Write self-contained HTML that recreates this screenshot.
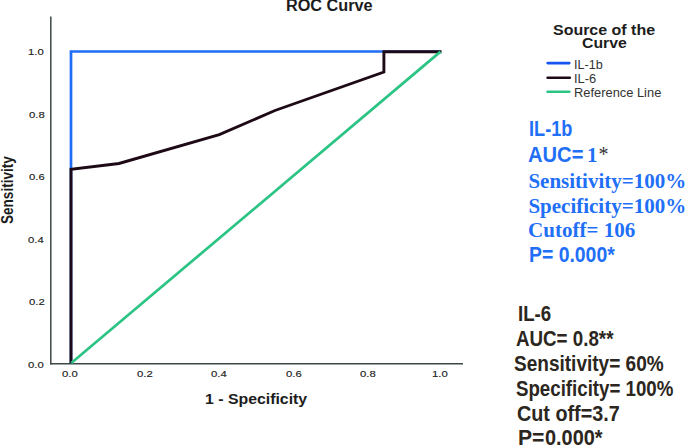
<!DOCTYPE html>
<html><head><meta charset="utf-8">
<style>
html,body{margin:0;padding:0;background:#fff;}
body{width:685px;height:447px;position:relative;overflow:hidden;font-family:'Liberation Sans',sans-serif;}
.t{position:absolute;white-space:nowrap;line-height:1;}
svg{position:absolute;left:0;top:0;}
</style></head>
<body>
<svg width="685" height="447" viewBox="0 0 685 447">
  <line x1="50.8" y1="16.5" x2="50.8" y2="364.6" stroke="#3d4848" stroke-width="1.5"/>
  <line x1="50" y1="363.8" x2="463" y2="363.8" stroke="#3d4848" stroke-width="1.5"/>
  <polyline points="71,363 71,51.5 440.5,51.5" fill="none" stroke="#1f6cf5" stroke-width="2.7"/>
  <polyline points="71,363 71,169.2 119,163.5 219.3,134.6 275,110.5 383.9,72 383.9,51.7 441.5,51.7" fill="none" stroke="#1e0a16" stroke-width="2.9" stroke-linejoin="miter"/>
  <line x1="71.3" y1="363" x2="440.5" y2="51.6" stroke="#2cc484" stroke-width="2.7"/>
  <line x1="547.6" y1="63.1" x2="569.3" y2="63.1" stroke="#1655f2" stroke-width="2.6" stroke-linecap="round"/>
  <line x1="547.6" y1="77.7" x2="569.8" y2="77.7" stroke="#1e0a16" stroke-width="2.6" stroke-linecap="round"/>
  <line x1="547.6" y1="91.8" x2="569.3" y2="91.8" stroke="#2cc484" stroke-width="2.6" stroke-linecap="round"/>
</svg>

<div class="t" style="left:285.99px;top:-2.20px;font-family:'Liberation Sans',sans-serif;font-size:16px;font-weight:bold;letter-spacing:0.000px;color:#1c1c1c;transform:scaleX(1.0143);transform-origin:0 0;">ROC Curve</div>
<div class="t" style="left:28.08px;top:48.26px;font-family:'Liberation Sans',sans-serif;font-size:10px;font-weight:normal;letter-spacing:0.000px;color:#222;transform:scale(1.1300,0.9300);transform-origin:0 0;-webkit-text-stroke:0.15px #222;">1.0</div>
<div class="t" style="left:29.21px;top:110.76px;font-family:'Liberation Sans',sans-serif;font-size:10px;font-weight:normal;letter-spacing:0.000px;color:#222;transform:scale(1.1300,0.9300);transform-origin:0 0;-webkit-text-stroke:0.15px #222;">0.8</div>
<div class="t" style="left:29.21px;top:173.26px;font-family:'Liberation Sans',sans-serif;font-size:10px;font-weight:normal;letter-spacing:0.000px;color:#222;transform:scale(1.1300,0.9300);transform-origin:0 0;-webkit-text-stroke:0.15px #222;">0.6</div>
<div class="t" style="left:28.08px;top:235.76px;font-family:'Liberation Sans',sans-serif;font-size:10px;font-weight:normal;letter-spacing:0.000px;color:#222;transform:scale(1.1300,0.9300);transform-origin:0 0;-webkit-text-stroke:0.15px #222;">0.4</div>
<div class="t" style="left:29.21px;top:298.26px;font-family:'Liberation Sans',sans-serif;font-size:10px;font-weight:normal;letter-spacing:0.000px;color:#222;transform:scale(1.1300,0.9300);transform-origin:0 0;-webkit-text-stroke:0.15px #222;">0.2</div>
<div class="t" style="left:28.08px;top:360.76px;font-family:'Liberation Sans',sans-serif;font-size:10px;font-weight:normal;letter-spacing:0.000px;color:#222;transform:scale(1.1300,0.9300);transform-origin:0 0;-webkit-text-stroke:0.15px #222;">0.0</div>
<div class="t" style="left:62.49px;top:370.36px;font-family:'Liberation Sans',sans-serif;font-size:10px;font-weight:normal;letter-spacing:0.000px;color:#222;transform:scale(1.1300,0.9300);transform-origin:0 0;-webkit-text-stroke:0.15px #222;">0.0</div>
<div class="t" style="left:136.91px;top:370.36px;font-family:'Liberation Sans',sans-serif;font-size:10px;font-weight:normal;letter-spacing:0.000px;color:#222;transform:scale(1.1300,0.9300);transform-origin:0 0;-webkit-text-stroke:0.15px #222;">0.2</div>
<div class="t" style="left:211.14px;top:370.36px;font-family:'Liberation Sans',sans-serif;font-size:10px;font-weight:normal;letter-spacing:0.000px;color:#222;transform:scale(1.1300,0.9300);transform-origin:0 0;-webkit-text-stroke:0.15px #222;">0.4</div>
<div class="t" style="left:285.65px;top:370.36px;font-family:'Liberation Sans',sans-serif;font-size:10px;font-weight:normal;letter-spacing:0.000px;color:#222;transform:scale(1.1300,0.9300);transform-origin:0 0;-webkit-text-stroke:0.15px #222;">0.6</div>
<div class="t" style="left:359.55px;top:370.36px;font-family:'Liberation Sans',sans-serif;font-size:10px;font-weight:normal;letter-spacing:0.000px;color:#222;transform:scale(1.1300,0.9300);transform-origin:0 0;-webkit-text-stroke:0.15px #222;">0.8</div>
<div class="t" style="left:432.42px;top:370.36px;font-family:'Liberation Sans',sans-serif;font-size:10px;font-weight:normal;letter-spacing:0.000px;color:#222;transform:scale(1.1300,0.9300);transform-origin:0 0;-webkit-text-stroke:0.15px #222;">1.0</div>
<div class="t" style="left:204.77px;top:391.60px;font-family:'Liberation Sans',sans-serif;font-size:14px;font-weight:bold;letter-spacing:0.000px;color:#1c1c1c;transform:scaleX(1.1315);transform-origin:0 0;">1 - Specificity</div>
<div class="t" style="left:552.85px;top:22.50px;font-family:'Liberation Sans',sans-serif;font-size:14px;font-weight:bold;letter-spacing:0.000px;color:#1c1c1c;transform:scaleX(1.1404);transform-origin:0 0;">Source of the</div>
<div class="t" style="left:581.80px;top:35.60px;font-family:'Liberation Sans',sans-serif;font-size:14px;font-weight:bold;letter-spacing:0.000px;color:#1c1c1c;transform:scaleX(1.1282);transform-origin:0 0;">Curve</div>
<div class="t" style="left:573.65px;top:58.70px;font-family:'Liberation Sans',sans-serif;font-size:12px;font-weight:normal;letter-spacing:0.000px;color:#333;transform:scaleX(1.0500);transform-origin:0 0;">IL-1b</div>
<div class="t" style="left:573.63px;top:72.70px;font-family:'Liberation Sans',sans-serif;font-size:12px;font-weight:normal;letter-spacing:0.000px;color:#333;transform:scaleX(1.0684);transform-origin:0 0;">IL-6</div>
<div class="t" style="left:573.63px;top:87.00px;font-family:'Liberation Sans',sans-serif;font-size:12px;font-weight:normal;letter-spacing:0.000px;color:#333;transform:scaleX(1.0725);transform-origin:0 0;">Reference Line</div>
<div class="t" style="left:528.55px;top:119.20px;font-family:'Liberation Sans',sans-serif;font-size:21.5px;font-weight:bold;letter-spacing:0.000px;color:#1f6ff7;transform:scaleX(0.8460);transform-origin:0 0;">IL-1b</div>
<div class="t" style="left:528.16px;top:144.80px;font-family:'Liberation Sans',sans-serif;font-size:21.5px;font-weight:bold;letter-spacing:0.000px;color:#1f6ff7;transform:scaleX(0.9368);transform-origin:0 0;">AUC=</div>
<div class="t" style="left:586.90px;top:144.90px;font-family:'Liberation Serif',serif;font-size:21px;font-weight:bold;letter-spacing:0.000px;color:#1f6ff7;">1</div>
<div class="t" style="left:598.40px;top:143.60px;font-family:'Liberation Serif',serif;font-size:20px;font-weight:normal;letter-spacing:0.000px;color:#333;">*</div>
<div class="t" style="left:528.40px;top:170.60px;font-family:'Liberation Serif',serif;font-size:21px;font-weight:bold;letter-spacing:0.000px;color:#1f6ff7;">Sensitivity=100%</div>
<div class="t" style="left:528.40px;top:195.60px;font-family:'Liberation Serif',serif;font-size:21px;font-weight:bold;letter-spacing:0.000px;color:#1f6ff7;">Specificity=100%</div>
<div class="t" style="left:528.10px;top:220.30px;font-family:'Liberation Serif',serif;font-size:21px;font-weight:bold;letter-spacing:0.000px;color:#1f6ff7;">Cutoff= 106</div>
<div class="t" style="left:528.60px;top:244.70px;font-family:'Liberation Sans',sans-serif;font-size:21.5px;font-weight:bold;letter-spacing:0.000px;color:#1f6ff7;transform:scaleX(0.9021);transform-origin:0 0;">P= 0.000*</div>
<div class="t" style="left:517.63px;top:303.60px;font-family:'Liberation Sans',sans-serif;font-size:21.5px;font-weight:bold;letter-spacing:0.000px;color:#2b2620;transform:scaleX(0.8676);transform-origin:0 0;">IL-6</div>
<div class="t" style="left:516.33px;top:328.70px;font-family:'Liberation Sans',sans-serif;font-size:21.5px;font-weight:bold;letter-spacing:0.000px;color:#2b2620;transform:scaleX(0.8721);transform-origin:0 0;">AUC= 0.8**</div>
<div class="t" style="left:514.41px;top:353.50px;font-family:'Liberation Sans',sans-serif;font-size:21.5px;font-weight:bold;letter-spacing:0.000px;color:#2b2620;transform:scaleX(0.8851);transform-origin:0 0;">Sensitivity= 60%</div>
<div class="t" style="left:515.93px;top:378.50px;font-family:'Liberation Sans',sans-serif;font-size:21.5px;font-weight:bold;letter-spacing:0.000px;color:#2b2620;transform:scaleX(0.8689);transform-origin:0 0;">Specificity= 100%</div>
<div class="t" style="left:517.48px;top:403.70px;font-family:'Liberation Sans',sans-serif;font-size:21.5px;font-weight:bold;letter-spacing:0.000px;color:#2b2620;transform:scaleX(0.9191);transform-origin:0 0;">Cut off=3.7</div>
<div class="t" style="left:517.72px;top:428.40px;font-family:'Liberation Sans',sans-serif;font-size:21.5px;font-weight:bold;letter-spacing:0.000px;color:#2b2620;transform:scaleX(0.9840);transform-origin:0 0;">P=</div>
<div class="t" style="left:544.97px;top:428.40px;font-family:'Liberation Sans',sans-serif;font-size:21.5px;font-weight:bold;letter-spacing:0.000px;color:#2b2620;transform:scaleX(0.9262);transform-origin:0 0;">0.000*</div>
<div class="t" style="left:-1.2px;top:224.0px;font-family:'Liberation Sans',sans-serif;font-size:16.5px;font-weight:bold;color:#1c1c1c;transform-origin:0 0;transform:rotate(-90deg) scaleX(0.821);">Sensitivity</div>

</body></html>
